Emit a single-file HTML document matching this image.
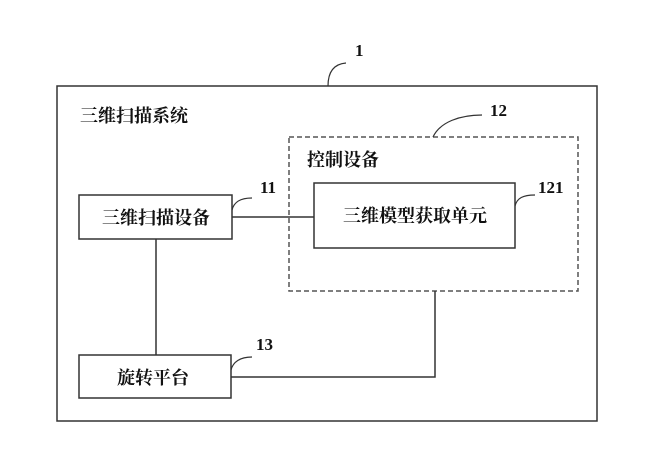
<!DOCTYPE html>
<html><head><meta charset="utf-8"><style>
html,body{margin:0;padding:0;background:#fff;}
svg{display:block}
text{font-family:"Liberation Serif","Noto Serif CJK SC",serif;fill:#111;}
.c{font-family:"Liberation Serif","Noto Serif CJK SC","Noto Sans CJK SC",serif;font-weight:bold;font-size:18px;}
.n{font-size:17px;font-weight:bold;}
</style></head><body>
<svg width="653" height="461" viewBox="0 0 653 461" xmlns="http://www.w3.org/2000/svg">
<g fill="none" stroke="#333" stroke-width="1.5">
<rect x="57" y="86" width="540" height="335"/>
<rect x="289" y="137" width="289" height="154" stroke-dasharray="5,3" stroke="#555"/>
<rect x="314" y="183" width="201" height="65"/>
<rect x="79" y="195" width="153" height="44"/>
<rect x="79" y="355" width="152" height="43"/>
<path d="M232 217 H314"/>
<path d="M156 239 V355"/>
<path d="M231 377 H435 V291"/>
<path d="M328 86 C328 72 334 64 346 63" stroke-width="1.2"/>
<path d="M433 137 C440 122 460 115 482 115" stroke-width="1.2"/>
<path d="M232 210 C234 202 240 198 252 198" stroke-width="1.2"/>
<path d="M515 206 C517 198 523 195 535 195" stroke-width="1.2"/>
<path d="M231 370 C233 362 240 357 252 357" stroke-width="1.2"/>
</g>
<text class="n" x="355" y="56">1</text>
<text class="n" x="490" y="116">12</text>
<text class="n" x="260" y="193">11</text>
<text class="n" x="538" y="193">121</text>
<text class="n" x="256" y="350">13</text>
<text class="c" x="80" y="122">三维扫描系统</text>
<text class="c" x="307" y="166">控制设备</text>
<text class="c" x="415" y="222" text-anchor="middle">三维模型获取单元</text>
<text class="c" x="156" y="224" text-anchor="middle">三维扫描设备</text>
<text class="c" x="153" y="384" text-anchor="middle">旋转平台</text>
</svg>
</body></html>
